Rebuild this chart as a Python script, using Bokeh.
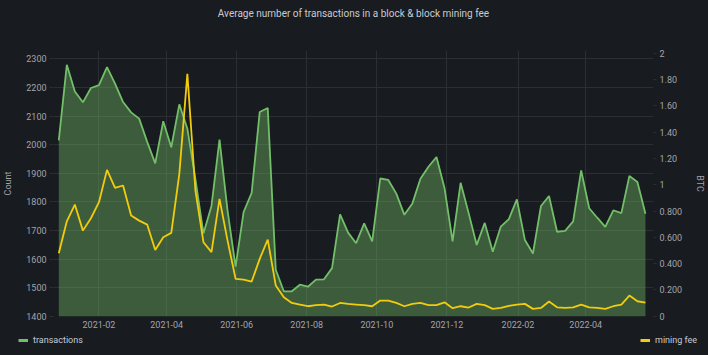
import pandas as pd
from bokeh.plotting import figure
from bokeh.layouts import column
from bokeh.models import (Range1d, LinearAxis, FixedTicker, Legend, LegendItem,
                          ColumnDataSource, Title)
from bokeh.embed import file_html
from bokeh.resources import INLINE

# ---------------- data ----------------
start_date = "2020-12-28"          # weekly samples
transactions = [2015, 2279, 2186, 2148, 2198, 2208, 2271, 2213, 2149, 2113,
                2091, 2010, 1935, 2082, 1991, 2141, 2056, 1880, 1690, 1786,
                2018, 1770, 1574, 1765, 1832, 2114, 2128, 1563, 1488, 1488,
                1511, 1504, 1529, 1530, 1569, 1757, 1693, 1656, 1725, 1662,
                1882, 1877, 1829, 1755, 1795, 1881, 1923, 1957, 1848, 1662,
                1867, 1761, 1650, 1727, 1626, 1714, 1740, 1809, 1667, 1620,
                1786, 1821, 1696, 1699, 1732, 1910, 1778, 1745, 1713, 1771,
                1761, 1891, 1870, 1759]
mining_fee = [0.479, 0.722, 0.849, 0.651, 0.745, 0.867, 1.113, 0.976, 0.994, 0.766,
              0.727, 0.697, 0.504, 0.601, 0.634, 1.082, 1.843, 0.956, 0.563, 0.487,
              0.892, 0.575, 0.284, 0.279, 0.264, 0.436, 0.583, 0.233, 0.144, 0.101,
              0.089, 0.076, 0.084, 0.089, 0.074, 0.101, 0.094, 0.089, 0.084, 0.076,
              0.119, 0.119, 0.101, 0.076, 0.094, 0.101, 0.084, 0.084, 0.106, 0.061,
              0.076, 0.066, 0.094, 0.084, 0.056, 0.063, 0.079, 0.089, 0.094, 0.056,
              0.063, 0.112, 0.068, 0.063, 0.068, 0.089, 0.068, 0.063, 0.056, 0.076,
              0.089, 0.157, 0.114, 0.104]

count_ticks = [1400, 1500, 1600, 1700, 1800, 1900, 2000, 2100, 2200, 2300]
btc_ticks = [0, 0.2, 0.4, 0.6, 0.8, 1, 1.2, 1.4, 1.6, 1.8, 2]
btc_labels = ["0", "0.200", "0.400", "0.600", "0.800", "1", "1.20", "1.40",
              "1.60", "1.80", "2"]
month_ticks = ["2021-02-01", "2021-04-01", "2021-06-01", "2021-08-01",
               "2021-10-01", "2021-12-01", "2022-02-01", "2022-04-01"]
month_labels = ["2021-02", "2021-04", "2021-06", "2021-08", "2021-10",
                "2021-12", "2022-02", "2022-04"]

count_range = (1400, 2329)
btc_range = (-0.002, 2.0205)

# ---------------- styling ----------------
BG = "#181b1f"
GRID = "#2b2e33"
TXT = "#a3a4ab"
TXT_LIGHT = "#c9cad2"
GREEN = "#73BF69"
YELLOW = "#F2CC0C"
FONT = "Roboto"

dates = pd.date_range(start_date, periods=len(transactions), freq="7D")
src = ColumnDataSource(dict(date=dates, tx=transactions, fee=mining_fee))

x_start = dates[0] - pd.Timedelta(days=4.6)
x_end = dates[-1] + pd.Timedelta(days=7)

p = figure(width=708, height=335, x_axis_type="datetime",
           x_range=Range1d(x_start, x_end),
           y_range=Range1d(*count_range),
           output_backend="svg", toolbar_location=None,
           min_border_left=53, min_border_right=55,
           min_border_top=50, min_border_bottom=19,
           background_fill_color=BG, border_fill_color=BG,
           outline_line_color=None, frame_align=False)
p.extra_y_ranges = {"btc": Range1d(*btc_range)}

p.title.text = "Average number of transactions in a block & block mining fee"
p.title.align = "center"
p.title.text_font = FONT
p.title.text_font_size = "10px"
p.title.text_font_style = "normal"
p.title.text_color = TXT_LIGHT
p.title.standoff = 0
# blank spacer between title and plot area
p.add_layout(Title(text=" ", text_font_size="26px", standoff=0), "above")

# grids
for g in (p.xgrid, p.ygrid):
    g.grid_line_color = GRID
    g.grid_line_width = 1

# x axis
month_ms = [int(pd.Timestamp(m).value // 10**6) for m in month_ticks]
xa = p.xaxis[0]
xa.ticker = FixedTicker(ticks=month_ms)
xa.major_label_overrides = dict(zip(month_ms, month_labels))
xa.axis_line_color = None
xa.major_tick_line_color = None
xa.minor_tick_line_color = None
xa.major_tick_out = 0
xa.major_label_standoff = 4
xa.major_label_text_font = FONT
xa.major_label_text_font_size = "9px"
xa.major_label_text_color = TXT

# left axis
ya = p.yaxis[0]
ya.ticker = FixedTicker(ticks=count_ticks)
ya.axis_label = "Count"
ya.axis_label_text_font = FONT
ya.axis_label_text_font_size = "9px"
ya.axis_label_text_font_style = "normal"
ya.axis_label_text_color = TXT
ya.axis_label_standoff = 10
ya.axis_line_color = None
ya.major_tick_line_color = GRID
ya.major_tick_out = 4
ya.major_tick_in = 0
ya.minor_tick_line_color = None
ya.major_label_standoff = 3
ya.major_label_text_font = FONT
ya.major_label_text_font_size = "9px"
ya.major_label_text_color = TXT

# right axis
ra = LinearAxis(y_range_name="btc", ticker=FixedTicker(ticks=btc_ticks),
                major_label_overrides=dict(zip(btc_ticks, btc_labels)),
                axis_label="BTC")
ra.axis_label_text_font = FONT
ra.axis_label_text_font_size = "9px"
ra.axis_label_text_font_style = "normal"
ra.axis_label_text_color = TXT
ra.axis_label_standoff = 10
ra.axis_line_color = None
ra.major_tick_line_color = GRID
ra.major_tick_out = 3
ra.major_tick_in = 0
ra.minor_tick_line_color = None
ra.major_label_standoff = 3
ra.major_label_text_font = FONT
ra.major_label_text_font_size = "9px"
ra.major_label_text_color = TXT
p.add_layout(ra, "right")

# glyphs
p.varea(x="date", y1=count_range[0], y2="tx", source=src,
        fill_color=GREEN, fill_alpha=0.4)
p.line(x="date", y="tx", source=src, line_color=GREEN, line_width=1.8)
p.line(x="date", y="fee", source=src, y_range_name="btc",
       line_color=YELLOW, line_width=1.8)

# ---------------- legend strip ----------------
# the series are drawn here outside the (unit) view, only to feed the legend swatches
lg = figure(width=708, height=20, x_range=Range1d(0, 1), y_range=Range1d(0, 1),
            output_backend="svg", toolbar_location=None,
            x_axis_location=None, y_axis_location=None,
            min_border=0, background_fill_color=BG, border_fill_color=BG,
            outline_line_color=None, frame_align=False)
lg.xgrid.visible = False
lg.ygrid.visible = False
sw_tx = lg.line(x="date", y="tx", source=src, line_color=GREEN, line_width=3)
sw_fee = lg.line(x="date", y="fee", source=src, line_color=YELLOW, line_width=3)


def make_legend(label, rend, loc):
    return Legend(items=[LegendItem(label=label, renderers=[rend])],
                  location=loc, orientation="horizontal",
                  background_fill_alpha=0, border_line_alpha=0,
                  padding=0, margin=0, glyph_width=10, glyph_height=10,
                  label_height=10, label_standoff=5,
                  label_text_font=FONT, label_text_font_size="9px",
                  label_text_color=TXT_LIGHT)


lg.add_layout(make_legend("transactions", sw_tx, (18, 10)))
lg.add_layout(make_legend("mining fee", sw_fee, (640, 10)))

layout = column(p, lg, spacing=0, styles={"background-color": BG})
open("out.html", "w").write(file_html(layout, INLINE))
